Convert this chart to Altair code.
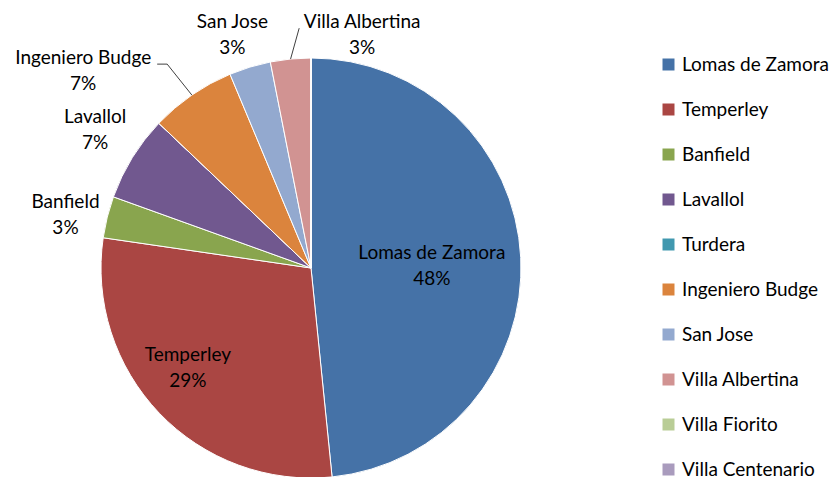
import altair as alt
import pandas as pd

# ---- data ----
categories = ["Lomas de Zamora", "Temperley", "Banfield", "Lavallol", "Turdera",
              "Ingeniero Budge", "San Jose", "Villa Albertina", "Villa Fiorito",
              "Villa Centenario"]
values = [48.4, 28.9, 3.2, 6.6, 0.0, 6.6, 3.2, 3.1, 0.0, 0.0]
colors = ["#4572A7", "#AA4643", "#89A54E", "#71588F", "#4198AF",
          "#DB843D", "#93A9CF", "#D19392", "#B9CD96", "#A99BBD"]

# ---- style / layout ----
CX, CY, R = 303, 260, 210
FONT = "Lato"
FS = 19
LH = 26

# label placement: radial distance, nudge dx, nudge dy, leader-line offsets from label centre
label_style = {
    "Lomas de Zamora": (121, 0, 4, []),
    "Temperley": (158, -9, -9, []),
    "Banfield": (251, -2, 8, []),
    "Lavallol": (256, 2, -4, []),
    "Ingeniero Budge": (250, -86, 9, [(84, -7), (74, -7)]),
    "San Jose": (246, -7, 2, []),
    "Villa Albertina": (245, 75, 11, [(-63, -7)]),
}

rows = []
for i, (c, v) in enumerate(zip(categories, values)):
    lr, ldx, ldy, lead = label_style.get(c, (0, 0, 0, []))
    rows.append({
        "category": c, "value": v, "order": i,
        "lr": lr, "ldx": ldx, "ldy": ldy,
        "lox": [p[0] for p in lead], "loy": [p[1] for p in lead],
        "nlead": len(lead),
    })
df = pd.DataFrame(rows)

base = alt.Chart(df)

arcs = base.mark_arc(radius=R, stroke="white", strokeWidth=1).encode(
    theta=alt.Theta("value:Q", stack=True),
    color=alt.Color(
        "category:N",
        sort=categories,
        scale=alt.Scale(domain=categories, range=colors),
        legend=alt.Legend(
            title=None, orient="none", legendX=651, legendY=47,
            symbolType="square", symbolSize=144, symbolStrokeWidth=0,
            symbolOpacity=1, labelFont=FONT, labelFontSize=FS,
            labelColor="black", rowPadding=25.0, labelOffset=4, padding=0,
        ),
    ),
    order=alt.Order("order:Q"),
    x=alt.value(CX),
    y=alt.value(CY),
)

pos = (
    base.transform_window(cum="sum(value)", sort=[alt.SortField("order")], frame=[None, 0])
    .transform_joinaggregate(total="sum(value)")
    .transform_calculate(mid="(datum.cum - datum.value / 2) / datum.total * 2 * PI")
    .transform_calculate(ex=f"{CX} + {R} * sin(datum.mid)")
    .transform_calculate(ey=f"{CY} - {R} * cos(datum.mid)")
    .transform_calculate(lx=f"{CX} + datum.lr * sin(datum.mid) + datum.ldx")
    .transform_calculate(ly=f"{CY} - datum.lr * cos(datum.mid) + datum.ldy")
    .transform_calculate(label="datum.category + '\\n' + round(datum.value / datum.total * 100) + '%'")
)

texts = pos.transform_filter("datum.value > 0").mark_text(
    font=FONT, fontSize=FS, lineBreak="\n", lineHeight=LH,
    align="center", baseline="middle", color="black", dy=-LH / 2,
).encode(
    x=alt.X("lx:Q", scale=None, axis=None),
    y=alt.Y("ly:Q", scale=None, axis=None),
    text="label:N",
)

leaders = (
    pos.transform_filter("datum.nlead > 0")
    .transform_calculate(seq="sequence(0, datum.nlead + 1)")
    .transform_flatten(["seq"])
    .transform_calculate(px="datum.seq == 0 ? datum.ex : datum.lx + datum.lox[datum.seq - 1]")
    .transform_calculate(py="datum.seq == 0 ? datum.ey : datum.ly + datum.loy[datum.seq - 1]")
    .mark_line(color="#404040", strokeWidth=1)
    .encode(
        x=alt.X("px:Q", scale=None, axis=None),
        y=alt.Y("py:Q", scale=None, axis=None),
        detail="category:N",
        order="seq:Q",
    )
)

chart = (
    alt.layer(arcs, leaders, texts)
    .properties(width=822, height=469, padding=0, autosize=alt.AutoSizeParams(type="none"))
    .configure_view(stroke=None)
)

chart.save("out.html", embed_options={"renderer": "svg", "actions": False})
